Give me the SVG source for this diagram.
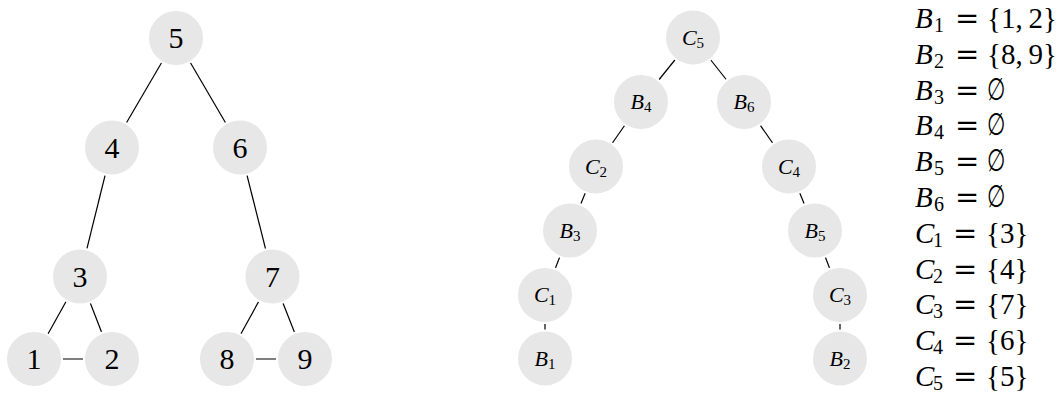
<svg xmlns="http://www.w3.org/2000/svg" width="1061" height="396" viewBox="0 0 1061 396">
  <style>
    .edge { stroke: #000; stroke-width: 1.2; fill: none; }
    .node circle { fill: #e7e7e7; stroke: #fff; stroke-width: 2; }
    .num { font-family: "Liberation Serif", "DejaVu Serif", serif; font-size: 30px; text-anchor: middle; fill: #000; }
    .lbl { font-family: "Liberation Serif", "DejaVu Serif", serif; font-size: 22px; text-anchor: middle; fill: #000; }
    .lbl .v, .eq .v { font-style: italic; }
    .lbl .s { font-size: 15px; }
    .eq { font-family: "Liberation Serif", "DejaVu Serif", serif; font-size: 29px; fill: #000; }
    .eq .s { font-size: 20px; }
    .eq .op { font-family: "DejaVu Serif", serif; }
    .empty { font-family: "Liberation Serif", "DejaVu Serif", serif; font-size: 29px; fill: #000; }
  </style>

  <!-- connectors, drawn centre to centre underneath the nodes -->
  <g id="connectors">
    <!-- graph -->
    <line class="edge" x1="176" y1="38" x2="112" y2="147.5"/>
    <line class="edge" x1="176" y1="38" x2="240" y2="147.5"/>
    <line class="edge" x1="112" y1="147.5" x2="80" y2="276.5"/>
    <line class="edge" x1="240" y1="147.5" x2="272.5" y2="276.5"/>
    <line class="edge" x1="80" y1="276.5" x2="34" y2="359"/>
    <line class="edge" x1="80" y1="276.5" x2="112" y2="359"/>
    <line class="edge" x1="34" y1="359" x2="112" y2="359"/>
    <line class="edge" x1="272.5" y1="276.5" x2="227" y2="359"/>
    <line class="edge" x1="272.5" y1="276.5" x2="305" y2="359"/>
    <line class="edge" x1="227" y1="359" x2="305" y2="359"/>
    <!-- decomposition tree -->
    <line class="edge" x1="693" y1="37.5" x2="641" y2="102"/>
    <line class="edge" x1="693" y1="37.5" x2="744" y2="102"/>
    <line class="edge" x1="641" y1="102" x2="596" y2="166.5"/>
    <line class="edge" x1="744" y1="102" x2="789" y2="166.5"/>
    <line class="edge" x1="596" y1="166.5" x2="570" y2="230.5"/>
    <line class="edge" x1="789" y1="166.5" x2="815" y2="230.5"/>
    <line class="edge" x1="570" y1="230.5" x2="545" y2="295"/>
    <line class="edge" x1="815" y1="230.5" x2="840" y2="295"/>
    <line class="edge" x1="545" y1="295" x2="545" y2="358.5"/>
    <line class="edge" x1="840" y1="295" x2="840" y2="358.5"/>
  </g>

  <!-- graph vertices -->
  <g id="v5" class="node"><circle cx="176" cy="38" r="28"/><text class="num" x="176" y="48">5</text></g>
  <g id="v4" class="node"><circle cx="112" cy="147.5" r="28"/><text class="num" x="112" y="157.5">4</text></g>
  <g id="v6" class="node"><circle cx="240" cy="147.5" r="28"/><text class="num" x="240" y="157.5">6</text></g>
  <g id="v3" class="node"><circle cx="80" cy="276.5" r="28"/><text class="num" x="80" y="286.5">3</text></g>
  <g id="v7" class="node"><circle cx="272.5" cy="276.5" r="28"/><text class="num" x="272.5" y="286.5">7</text></g>
  <g id="v1" class="node"><circle cx="34" cy="359" r="28"/><text class="num" x="34" y="369">1</text></g>
  <g id="v2" class="node"><circle cx="112" cy="359" r="28"/><text class="num" x="112" y="369">2</text></g>
  <g id="v8" class="node"><circle cx="227" cy="359" r="28"/><text class="num" x="227" y="369">8</text></g>
  <g id="v9" class="node"><circle cx="305" cy="359" r="28"/><text class="num" x="305" y="369">9</text></g>

  <!-- decomposition tree nodes -->
  <g id="tC5" class="node"><circle cx="693" cy="37.5" r="28"/><text class="lbl" x="693" y="44.5"><tspan class="v">C</tspan><tspan class="s" dy="3">5</tspan></text></g>
  <g id="tB4" class="node"><circle cx="641" cy="102" r="28"/><text class="lbl" x="641" y="109"><tspan class="v">B</tspan><tspan class="s" dy="3">4</tspan></text></g>
  <g id="tB6" class="node"><circle cx="744" cy="102" r="28"/><text class="lbl" x="744" y="109"><tspan class="v">B</tspan><tspan class="s" dy="3">6</tspan></text></g>
  <g id="tC2" class="node"><circle cx="596" cy="166.5" r="28"/><text class="lbl" x="596" y="173.5"><tspan class="v">C</tspan><tspan class="s" dy="3">2</tspan></text></g>
  <g id="tC4" class="node"><circle cx="789" cy="166.5" r="28"/><text class="lbl" x="789" y="173.5"><tspan class="v">C</tspan><tspan class="s" dy="3">4</tspan></text></g>
  <g id="tB3" class="node"><circle cx="570" cy="230.5" r="28"/><text class="lbl" x="570" y="237.5"><tspan class="v">B</tspan><tspan class="s" dy="3">3</tspan></text></g>
  <g id="tB5" class="node"><circle cx="815" cy="230.5" r="28"/><text class="lbl" x="815" y="237.5"><tspan class="v">B</tspan><tspan class="s" dy="3">5</tspan></text></g>
  <g id="tC1" class="node"><circle cx="545" cy="295" r="28"/><text class="lbl" x="545" y="302"><tspan class="v">C</tspan><tspan class="s" dy="3">1</tspan></text></g>
  <g id="tC3" class="node"><circle cx="840" cy="295" r="28"/><text class="lbl" x="840" y="302"><tspan class="v">C</tspan><tspan class="s" dy="3">3</tspan></text></g>
  <g id="tB1" class="node"><circle cx="545" cy="358.5" r="28"/><text class="lbl" x="545" y="365.5"><tspan class="v">B</tspan><tspan class="s" dy="3">1</tspan></text></g>
  <g id="tB2" class="node"><circle cx="840" cy="358.5" r="28"/><text class="lbl" x="840" y="365.5"><tspan class="v">B</tspan><tspan class="s" dy="3">2</tspan></text></g>

  <!-- bag contents -->
  <g id="bags">
    <text class="eq" y="28"><tspan class="v" x="915">B</tspan><tspan class="s" x="934" dy="4">1</tspan><tspan class="op" x="955" dy="-4">=</tspan><tspan x="987">{1,&#8201;2}</tspan></text>
    <text class="eq" y="63.8"><tspan class="v" x="915">B</tspan><tspan class="s" x="934" dy="4">2</tspan><tspan class="op" x="955" dy="-4">=</tspan><tspan x="987">{8,&#8201;9}</tspan></text>
    <text class="eq" y="99.6"><tspan class="v" x="915">B</tspan><tspan class="s" x="934" dy="4">3</tspan><tspan class="op" x="955" dy="-4">=</tspan></text>
    <text class="empty" transform="translate(987 99.6) scale(0.72 1.06)">∅</text>
    <text class="eq" y="135.4"><tspan class="v" x="915">B</tspan><tspan class="s" x="934" dy="4">4</tspan><tspan class="op" x="955" dy="-4">=</tspan></text>
    <text class="empty" transform="translate(987 135.4) scale(0.72 1.06)">∅</text>
    <text class="eq" y="171.2"><tspan class="v" x="915">B</tspan><tspan class="s" x="934" dy="4">5</tspan><tspan class="op" x="955" dy="-4">=</tspan></text>
    <text class="empty" transform="translate(987 171.2) scale(0.72 1.06)">∅</text>
    <text class="eq" y="207"><tspan class="v" x="915">B</tspan><tspan class="s" x="934" dy="4">6</tspan><tspan class="op" x="955" dy="-4">=</tspan></text>
    <text class="empty" transform="translate(987 207) scale(0.72 1.06)">∅</text>
    <text class="eq" y="242.8"><tspan class="v" x="915">C</tspan><tspan class="s" x="933" dy="4">1</tspan><tspan class="op" x="953" dy="-4">=</tspan><tspan x="986">{3}</tspan></text>
    <text class="eq" y="278.6"><tspan class="v" x="915">C</tspan><tspan class="s" x="933" dy="4">2</tspan><tspan class="op" x="953" dy="-4">=</tspan><tspan x="986">{4}</tspan></text>
    <text class="eq" y="314.4"><tspan class="v" x="915">C</tspan><tspan class="s" x="933" dy="4">3</tspan><tspan class="op" x="953" dy="-4">=</tspan><tspan x="986">{7}</tspan></text>
    <text class="eq" y="350.2"><tspan class="v" x="915">C</tspan><tspan class="s" x="933" dy="4">4</tspan><tspan class="op" x="953" dy="-4">=</tspan><tspan x="986">{6}</tspan></text>
    <text class="eq" y="386"><tspan class="v" x="915">C</tspan><tspan class="s" x="933" dy="4">5</tspan><tspan class="op" x="953" dy="-4">=</tspan><tspan x="986">{5}</tspan></text>
  </g>
</svg>
